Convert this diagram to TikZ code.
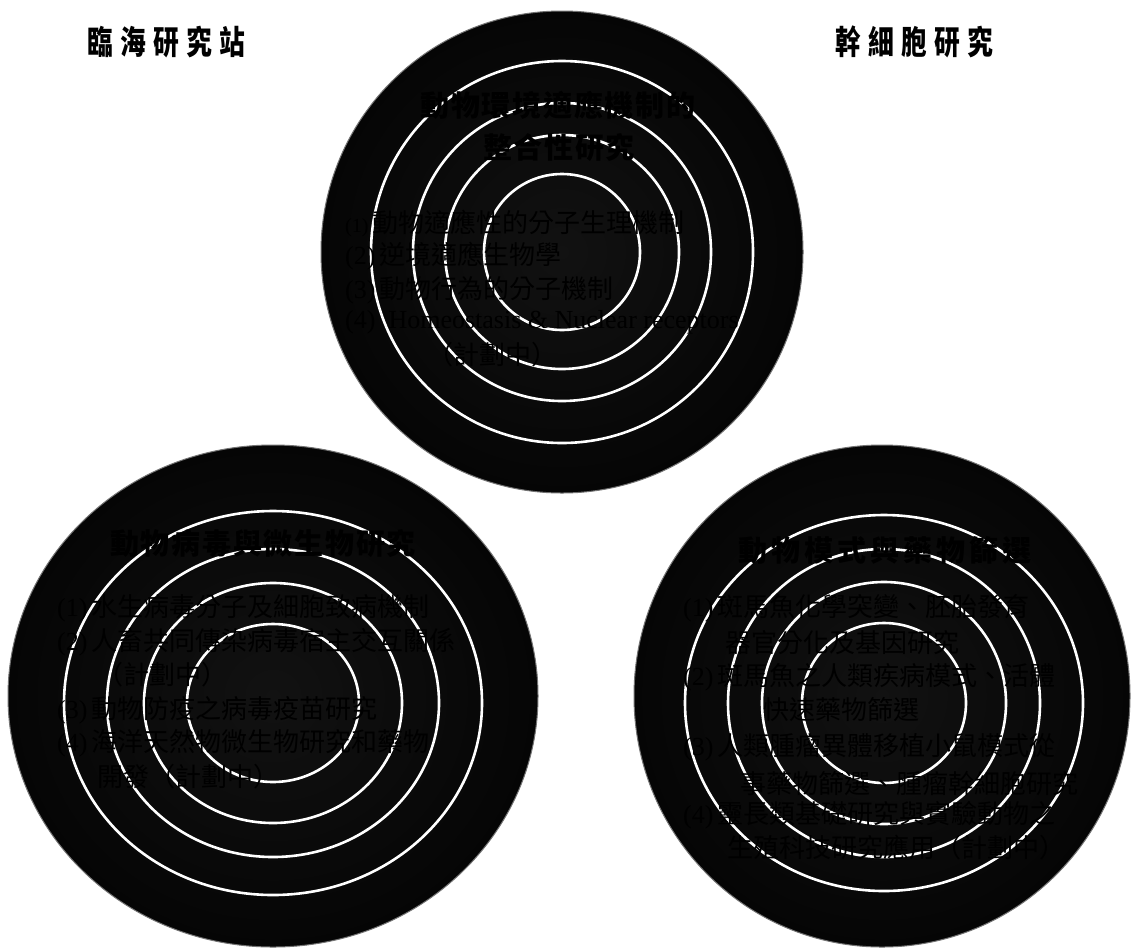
\documentclass[tikz,border=0pt]{standalone}
\usepackage{fontspec}
\usepackage{graphicx}
\setmainfont{Liberation Serif}
\newfontfamily\cjk{Noto Sans CJK TC}
\newcommand{\itm}[1]{{\rmfamily(#1)}\,}
\tikzset{
  disc/.style={inner color=black!93, outer color=black!98, draw=black!55, line width=1pt},
  ring/.style={draw=white, line width=2.6pt},
  toplabel/.style={font=\cjk\bfseries\fontsize{33}{35}\selectfont, text=black, inner sep=0pt},
  title/.style={font=\cjk\bfseries\fontsize{29}{32}\selectfont, text=black, inner sep=0pt},
  item/.style={font=\cjk\fontsize{26}{30}\selectfont, text=black, anchor=west, inner sep=0pt},
}
\begin{document}
\begin{tikzpicture}[x=1pt,y=-1pt]
\useasboundingbox[fill=white] (0,0) rectangle (1131,948);
% top disc
\shade[disc] (562,252) circle [radius=241pt];
\foreach \r in {191,149,117,78} \draw[ring] (562,252) circle [radius=\r pt];
% bottom-left disc
\shade[disc] (273,696) ellipse [x radius=265pt, y radius=251pt];
\foreach \a/\b in {209/192,166/154,129/120,86/79} \draw[ring] (273,703) ellipse [x radius=\a pt, y radius=\b pt];
% bottom-right disc
\shade[disc] (882,696) ellipse [x radius=248pt, y radius=251pt];
\foreach \a/\b in {199/188,156/154,122/121,82/80} \draw[ring] (884,703) ellipse [x radius=\a pt, y radius=\b pt];

% top labels
\node[toplabel] (lab1) at (166,42) {\scalebox{0.78}[1]{\addfontfeatures{LetterSpace=28}臨海研究站}};
\node[toplabel] (lab2) at (914,42) {\scalebox{0.78}[1]{\addfontfeatures{LetterSpace=28}幹細胞研究}};

% top circle text
\node[title] (tt1) at (558,105) {\addfontfeatures{LetterSpace=6}動物環境適應機制的};
\node[title] (tt2) at (559,148) {\addfontfeatures{LetterSpace=6}整合性研究};
\node[item] (t1) at (345,223) {{\rmfamily\fontsize{20}{22}\selectfont(1)}\,動物適應性的分子生理機制};
\node[item] (t2) at (345,256) {\itm{2}逆境適應生物學};
\node[item] (t3) at (345,290) {\itm{3}動物行為的分子機制};
\node[item] (t4) at (345,322) {\rmfamily (4)\enspace Homeostasis \& Nuclear receptors};
\node[item] (t5) at (427,355) {（計劃中）};

% bottom-left circle text
\node[title] (lt) at (263,543) {\addfontfeatures{LetterSpace=6}動物病毒與微生物研究};
\node[item] (l1) at (57,608) {\itm{1}水生病毒分子及細胞致病機制};
\node[item] (l2) at (57,642) {\itm{2}人畜共同傳染病毒宿主交互關係};
\node[item] (l3) at (97,675) {（計劃中）};
\node[item] (l4) at (57,710) {\itm{3}動物防疫之病毒疫苗研究};
\node[item] (l5) at (57,743) {\itm{4}海洋天然物微生物研究和藥物};
\node[item] (l6) at (97,777) {開發（計劃中）};

% bottom-right circle text
\node[title] (rt) at (885,550) {\addfontfeatures{LetterSpace=14}動物模式與藥物篩選};
\node[item] (r1) at (683,608) {\itm{1}斑馬魚化學突變、胚胎發育};
\node[item] (r2) at (725,643) {器官分化及基因研究};
\node[item] (r3) at (683,677) {\itm{2}斑馬魚之人類疾病模式、活體};
\node[item] (r4) at (763,710) {快速藥物篩選};
\node[item] (r5) at (683,747) {\itm{3}人類腫瘤異體移植小鼠模式從};
\node[item] (r6) at (740,783) {事藥物篩選、腫瘤幹細胞研究};
\node[item] (r7) at (683,815) {\itm{4}靈長類基礎研究與實驗動物之};
\node[item] (r8) at (727,848) {生殖科技研究應用（計劃中）};
\end{tikzpicture}
\end{document}
